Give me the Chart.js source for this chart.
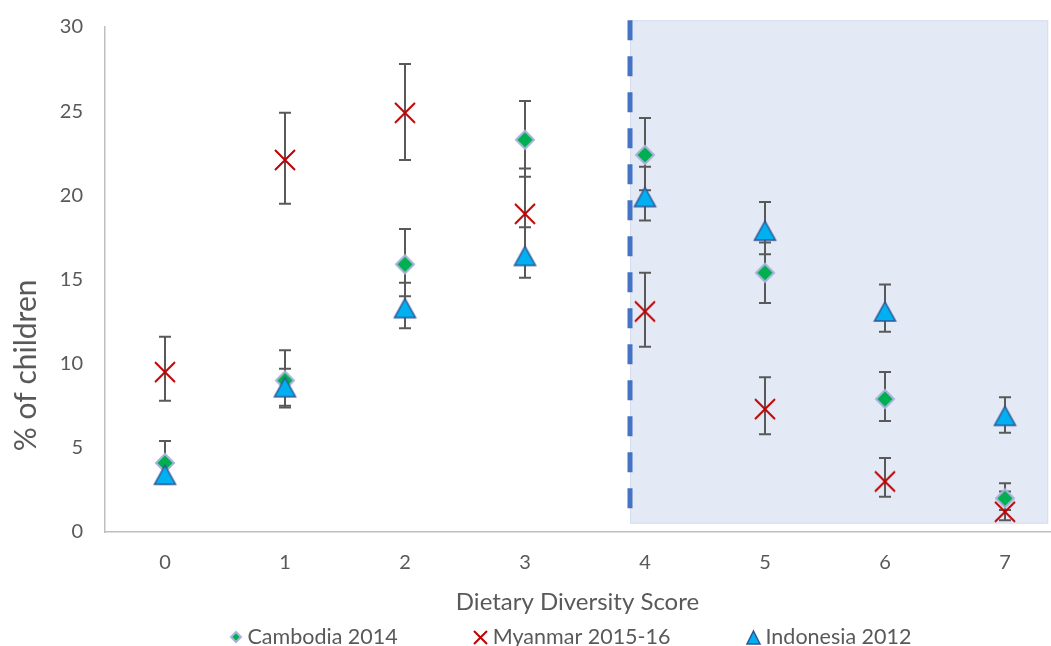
<!DOCTYPE html>
<html>
<head>
<meta charset="utf-8">
<title>Dietary Diversity Score</title>
<script src="https://cdn.jsdelivr.net/npm/chart.js@4.4.1/dist/chart.umd.min.js"></script>
<style>
  html, body { margin: 0; padding: 0; background: #fff; }
</style>
</head>
<body>
<canvas id="chart" width="1051" height="646"></canvas>
<script>
// Dietary diversity score (x) and share of children (%)
const scores = [0, 1, 2, 3, 4, 5, 6, 7];
const yTicks = [0, 5, 10, 15, 20, 25, 30];

const cambodia     = [4.1, 9.0, 15.9, 23.3, 22.4, 15.4, 7.9, 2.0];
const cambodiaLow  = [2.9, 7.4, 14.0, 21.1, 20.3, 13.6, 6.6, 1.3];
const cambodiaHigh = [5.4, 10.8, 18.0, 25.6, 24.6, 17.2, 9.5, 2.9];

const myanmar      = [9.5, 22.1, 24.9, 18.9, 13.1, 7.3, 3.0, 1.2];
const myanmarLow   = [7.8, 19.5, 22.1, 16.0, 11.0, 5.8, 2.1, 0.7];
const myanmarHigh  = [11.6, 24.9, 27.8, 21.6, 15.4, 9.2, 4.4, 2.4];

const indonesia     = [3.4, 8.6, 13.3, 16.4, 19.9, 17.9, 13.1, 6.9];
const indonesiaLow  = [2.9, 7.5, 12.1, 15.1, 18.5, 16.5, 11.9, 5.9];
const indonesiaHigh = [3.9, 9.7, 14.8, 18.1, 21.7, 19.6, 14.7, 8.0];

// highlighted range (score 4 and above)
const band = { from: 3.875, to: 7.36, bottom: 0.5, top: 30.4 };

const textColor = '#595959';
const fontFamily = 'Lato, "Open Sans", sans-serif';

// marker images
function markCanvas(size, draw) {
    const c = document.createElement('canvas');
    c.width = size;
    c.height = size;
    draw(c.getContext('2d'), size / 2);
    return c;
}

function diamond(r) {
    return markCanvas(Math.ceil(2 * r + 4), (g, m) => {
        g.beginPath();
        g.moveTo(m - r, m);
        g.lineTo(m, m - r);
        g.lineTo(m + r, m);
        g.lineTo(m, m + r);
        g.closePath();
        g.fillStyle = '#00B050';
        g.fill();
        g.lineWidth = 2;
        g.strokeStyle = '#A9B3DB';
        g.stroke();
    });
}

function cross(r) {
    return markCanvas(Math.ceil(2 * r + 4), (g, m) => {
        g.beginPath();
        g.moveTo(m - r, m - r);
        g.lineTo(m + r, m + r);
        g.moveTo(m + r, m - r);
        g.lineTo(m - r, m + r);
        g.lineWidth = 2;
        g.strokeStyle = '#C00000';
        g.stroke();
    });
}

function triangle(w, h) {
    return markCanvas(Math.ceil(Math.max(w, h) + 4), (g, m) => {
        g.beginPath();
        g.moveTo(m, m - h / 2);
        g.lineTo(m + w / 2, m + h / 2);
        g.lineTo(m - w / 2, m + h / 2);
        g.closePath();
        g.fillStyle = '#00B0F0';
        g.fill();
        g.lineWidth = 1.5;
        g.strokeStyle = '#2F5597';
        g.stroke();
    });
}

const toPoints = values => values.map((v, i) => ({ x: scores[i], y: v }));

// shaded band + dashed divider
const bandPlugin = {
    id: 'band',
    beforeDatasetsDraw(chart) {
        const { ctx, scales: { x, y } } = chart;
        const x0 = x.getPixelForValue(band.from);
        const x1 = x.getPixelForValue(band.to);
        const y0 = y.getPixelForValue(band.top);
        const y1 = y.getPixelForValue(band.bottom);
        ctx.save();
        ctx.fillStyle = '#E4EAF5';
        ctx.fillRect(x0, y0, x1 - x0, y1 - y0);
        ctx.strokeStyle = '#D5DDEF';
        ctx.lineWidth = 1;
        ctx.strokeRect(x0 + 0.5, y0 + 0.5, x1 - x0 - 1, y1 - y0 - 1);

        ctx.beginPath();
        ctx.setLineDash([20, 16]);
        ctx.strokeStyle = '#4472C4';
        ctx.lineWidth = 5;
        ctx.moveTo(x0, y0);
        ctx.lineTo(x0, y1);
        ctx.stroke();
        ctx.restore();
    }
};

// vertical error bars with caps
const errorBarPlugin = {
    id: 'errorBars',
    beforeDatasetsDraw(chart) {
        const { ctx, scales: { x, y } } = chart;
        ctx.save();
        ctx.strokeStyle = '#595959';
        ctx.lineWidth = 2;
        chart.data.datasets.forEach(ds => {
            ds.low.forEach((lo, i) => {
                const px = Math.round(x.getPixelForValue(scores[i]));
                const yl = y.getPixelForValue(lo);
                const yh = y.getPixelForValue(ds.high[i]);
                ctx.beginPath();
                ctx.moveTo(px, yl);
                ctx.lineTo(px, yh);
                ctx.moveTo(px - 6, yl);
                ctx.lineTo(px + 6, yl);
                ctx.moveTo(px - 6, yh);
                ctx.lineTo(px + 6, yh);
                ctx.stroke();
            });
        });
        ctx.restore();
    }
};

// y title and legend row
const labelsPlugin = {
    id: 'labels',
    afterDraw(chart) {
        const { ctx, chartArea } = chart;
        ctx.save();
        ctx.fillStyle = textColor;
        ctx.textBaseline = 'middle';

        ctx.save();
        ctx.translate(26, chartArea.top + (chartArea.bottom - chartArea.top) * 0.67);
        ctx.rotate(-Math.PI / 2);
        ctx.textAlign = 'center';
        ctx.font = '30px ' + fontFamily;
        ctx.fillText('% of children', 0, 0);
        ctx.restore();

        ctx.font = '21.5px ' + fontFamily;
        ctx.textAlign = 'left';
        const gap = 83, markGap = 12;
        const items = chart.data.datasets.map(ds => ({
            text: ds.label,
            mark: ds.legendMark,
            w: markGap + ctx.measureText(ds.label).width
        }));
        const total = items.reduce((s, it) => s + it.w, 0) + gap * (items.length - 1);
        let cx = (chartArea.left + chartArea.right) / 2 - 4 - total / 2;
        const cy = 637;
        items.forEach(it => {
            ctx.drawImage(it.mark, Math.round(cx - it.mark.width / 2), Math.round(cy - it.mark.height / 2));
            ctx.fillText(it.text, cx + markGap, cy);
            cx += it.w + gap;
        });
        ctx.restore();
    }
};

const chart = new Chart(document.getElementById('chart'), {
    type: 'scatter',
    data: {
        datasets: [
            {
                label: 'Cambodia 2014',
                data: toPoints(cambodia),
                low: cambodiaLow,
                high: cambodiaHigh,
                pointStyle: diamond(9),
                legendMark: diamond(5),
                pointRadius: 10,
                order: 3
            },
            {
                label: 'Myanmar 2015-16',
                data: toPoints(myanmar),
                low: myanmarLow,
                high: myanmarHigh,
                pointStyle: cross(10),
                legendMark: cross(6.5),
                pointRadius: 10,
                order: 2
            },
            {
                label: 'Indonesia 2012',
                data: toPoints(indonesia),
                low: indonesiaLow,
                high: indonesiaHigh,
                pointStyle: triangle(21, 19),
                legendMark: triangle(13, 13),
                pointRadius: 10,
                order: 1
            }
        ]
    },
    options: {
        responsive: false,
        animation: false,
        layout: { autoPadding: false, padding: { top: 27, right: 1, left: 0, bottom: 0 } },
        plugins: {
            legend: { display: false },
            tooltip: { enabled: false }
        },
        scales: {
            x: {
                type: 'linear',
                min: -0.5,
                max: 7.375,
                grid: { display: false },
                border: { display: true, color: '#BFBFBF', width: 1.5 },
                afterBuildTicks: scale => { scale.ticks = scores.map(v => ({ value: v })); },
                afterFit: scale => {
                    scale.height = 114;
                    scale.paddingLeft = 0;
                    scale.paddingRight = 0;
                },
                ticks: {
                    color: textColor,
                    font: { family: fontFamily, size: 20 },
                    padding: 11,
                    callback: v => String(v)
                },
                title: {
                    display: true,
                    text: 'Dietary Diversity Score',
                    color: textColor,
                    font: { family: fontFamily, size: 24 },
                    padding: { top: 0, bottom: 29 }
                }
            },
            y: {
                min: 0,
                max: 30,
                grid: { display: false },
                border: { display: true, color: '#BFBFBF', width: 1.5 },
                afterBuildTicks: scale => { scale.ticks = yTicks.map(v => ({ value: v })); },
                afterFit: scale => {
                    scale.width = 105;
                    scale.paddingTop = 0;
                    scale.paddingBottom = 0;
                },
                ticks: {
                    color: textColor,
                    font: { family: fontFamily, size: 20 },
                    padding: 14
                }
            }
        }
    },
    plugins: [bandPlugin, errorBarPlugin, labelsPlugin]
});
</script>
</body>
</html>
